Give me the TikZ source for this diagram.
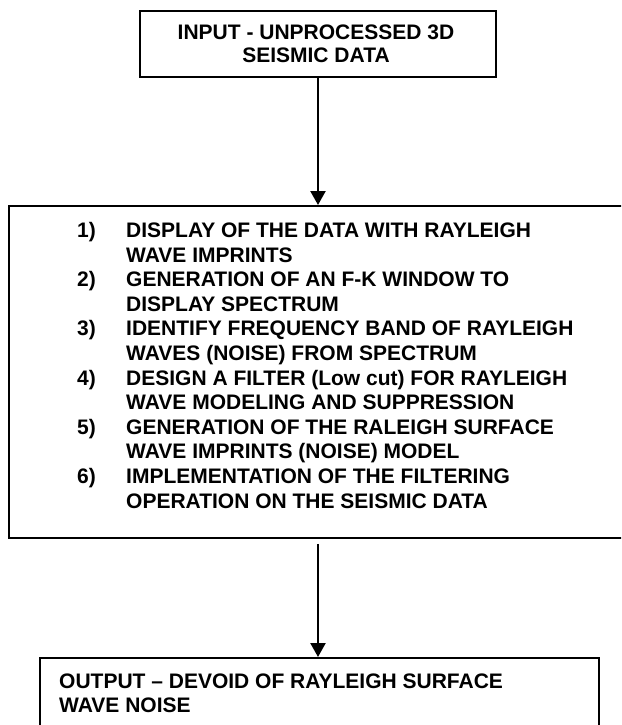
\documentclass[tikz,border=0pt]{standalone}
\usepackage{fontspec}
\setmainfont{Liberation Sans}
\usetikzlibrary{arrows.meta}
\begin{document}
\begin{tikzpicture}[x=1pt,y=-1pt,
  box/.style={draw, line width=1.8pt, inner sep=0pt, anchor=north west},
  txt/.style={font=\bfseries\fontsize{21}{24.6}\selectfont, inner sep=0pt},
  arr/.style={-{Triangle[length=14pt,width=15pt]}, line width=2.3pt}]
\useasboundingbox (0,0) rectangle (621,725);
\clip (0,0) rectangle (621,725);
\node[box, minimum width=356pt, minimum height=66pt] (in) at (139,10) {};
\node[txt, font=\bfseries\fontsize{21}{23}\selectfont, align=center, anchor=north] (intxt) at (316,25) {INPUT - UNPROCESSED 3D\\SEISMIC DATA};
\node[box, minimum width=640pt, minimum height=332pt] (mid) at (8,205) {};
\node[txt, anchor=north west] (midtxt) at (77,220) {%
\begin{tabular}{@{}p{49pt}@{}l@{}}
1) & DISPLAY OF THE DATA WITH RAYLEIGH\\
   & WAVE IMPRINTS\\
2) & GENERATION OF AN F-K WINDOW TO\\
   & DISPLAY SPECTRUM\\
3) & IDENTIFY FREQUENCY BAND OF RAYLEIGH\\
   & WAVES (NOISE) FROM SPECTRUM\\
4) & DESIGN A FILTER (Low cut) FOR RAYLEIGH\\
   & WAVE MODELING AND SUPPRESSION\\
5) & GENERATION OF THE RALEIGH SURFACE\\
   & WAVE IMPRINTS (NOISE) MODEL\\
6) & IMPLEMENTATION OF THE FILTERING\\
   & OPERATION ON THE SEISMIC DATA
\end{tabular}};
\node[box, minimum width=559pt, minimum height=120pt] (out) at (39,657) {};
\node[txt, font=\bfseries\fontsize{21}{24}\selectfont, align=left, anchor=north west] (outtxt) at (59,674) {OUTPUT – DEVOID OF RAYLEIGH SURFACE\\WAVE NOISE};
\draw[arr] (in.south -| 318,0) -- (mid.north -| 318,0);
\draw[arr] ([yshift=-5pt]mid.south -| 318,0) -- (out.north -| 318,0);
\end{tikzpicture}
\end{document}
